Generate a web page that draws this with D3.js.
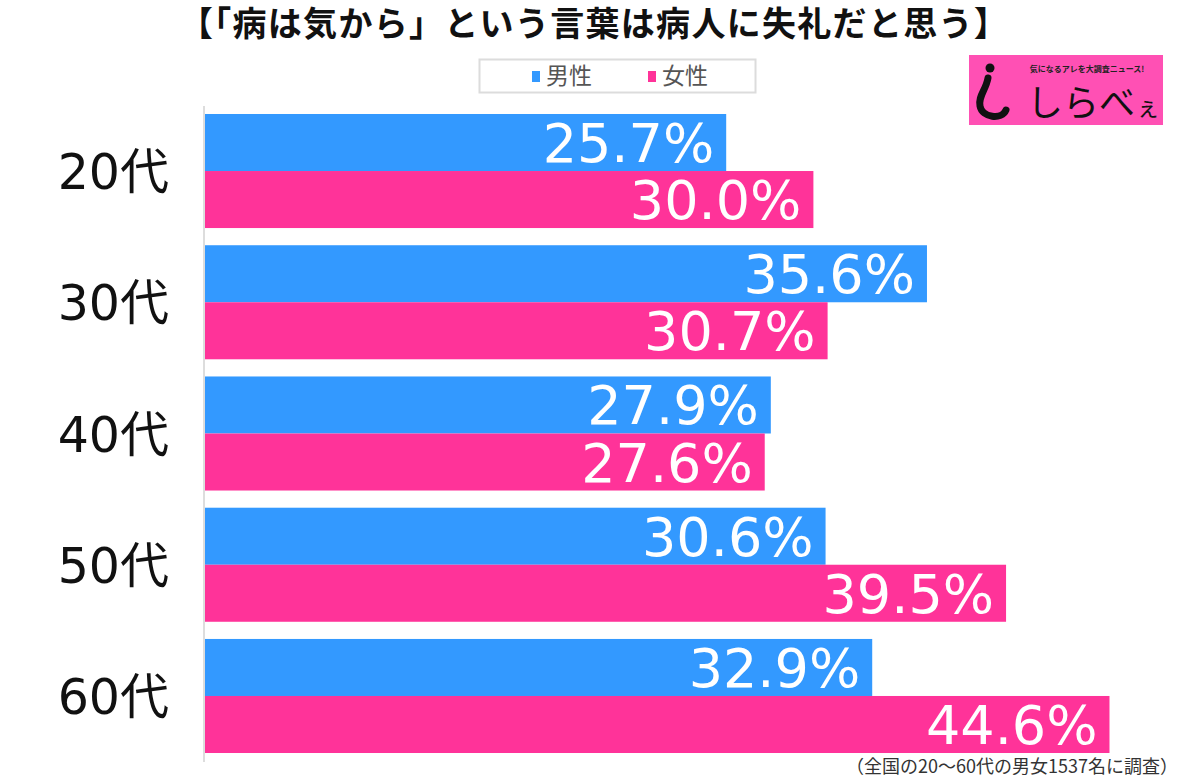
<!DOCTYPE html>
<html><head><meta charset="utf-8">
<script src="https://cdn.jsdelivr.net/npm/d3@7/dist/d3.min.js"></script>
<style>body{margin:0;background:#fff}svg{display:block}</style>
</head><body>
<svg id="chart" width="1200" height="779"></svg>
<script>
const categories = ["20代","30代","40代","50代","60代"];
const seriesNames = ["男性","女性"];
const maleValues = [25.7, 35.6, 27.9, 30.6, 32.9];
const femaleValues = [30.0, 30.7, 27.6, 39.5, 44.6];
const titleText = "【「病は気から」という言葉は病人に失礼だと思う】";
const noteText = "（全国の20〜60代の男女1537名に調査）";
const colors = ["#3399ff", "#ff3399"];

const svg = d3.select("#chart");
const numFont = "'DejaVu Sans','Noto Sans CJK JP',sans-serif";
const jpFont = "'Noto Sans CJK JP','Noto Sans',sans-serif";

const x = d3.scaleLinear().domain([0, 50]).range([205, 205 + 50*20.28]);
const y = d3.scaleBand().domain(categories).range([105.4, 761.6]).paddingInner(0.131).paddingOuter(0.0655);
const ySub = d3.scaleBand().domain(seriesNames).range([0, y.bandwidth()]);

// title
svg.append("text").attr("x", 594).attr("y", 36).attr("text-anchor","middle")
  .attr("font-family", jpFont).attr("font-weight","bold").attr("font-size",34).attr("fill","#111")
  .attr("letter-spacing", 1.3)
  .text(titleText);

// legend
const lg = svg.append("g");
lg.append("rect").attr("x",479.5).attr("y",59.5).attr("width",276).attr("height",33)
  .attr("fill","#fff").attr("stroke","#dcdcdc").attr("stroke-width",2);
const legX = [532, 648];
seriesNames.forEach((s,i)=>{
  lg.append("rect").attr("x",legX[i]).attr("y",71).attr("width",8).attr("height",11).attr("fill",colors[i]);
  lg.append("text").attr("x",legX[i]+14).attr("y",84).attr("font-family",jpFont).attr("font-size",23)
    .attr("fill","#555").text(s);
});

// axis line
svg.append("line").attr("x1",204).attr("x2",204).attr("y1",106).attr("y2",762)
  .attr("stroke","#dddddd").attr("stroke-width",2);

// category labels
svg.append("g").selectAll("text").data(categories).join("text")
  .attr("x", 169).attr("y", d => y(d) + y.bandwidth()/2 + 18)
  .attr("text-anchor","end").attr("font-family",numFont).attr("font-size",49).attr("fill","#111")
  .text(d=>d);

// bars
const rows = [];
categories.forEach((c,i)=>{
  rows.push({c, s:seriesNames[0], v:maleValues[i], col:colors[0]});
  rows.push({c, s:seriesNames[1], v:femaleValues[i], col:colors[1]});
});
svg.append("g").selectAll("rect").data(rows).join("rect")
  .attr("x", x(0)).attr("y", d => y(d.c) + ySub(d.s))
  .attr("width", d => x(d.v) - x(0)).attr("height", ySub.bandwidth())
  .attr("fill", d => d.col);

svg.append("g").selectAll("text").data(rows).join("text")
  .attr("x", d => x(d.v) - 12).attr("y", d => y(d.c) + ySub(d.s) + ySub.bandwidth()/2 + 19.5)
  .attr("text-anchor","end").attr("font-family",numFont).attr("font-size",54).attr("fill","#fff")
  .text(d => d.v.toFixed(1) + "%");

// note
svg.append("text").attr("x",1178).attr("y",773).attr("text-anchor","end")
  .attr("font-family",jpFont).attr("font-size",18).attr("fill","#333").text(noteText);

// logo
const logo = svg.append("g");
logo.append("rect").attr("x",969).attr("y",55).attr("width",194).attr("height",70).attr("fill","#ff50b4");
logo.append("circle").attr("cx",990).attr("cy",68).attr("r",4.5).attr("fill","#111");
logo.append("path").attr("d","M988,78 C986,90 978,96 980,106 C982,118 1002,120 1006,110")
  .attr("fill","none").attr("stroke","#111").attr("stroke-width",7).attr("stroke-linecap","round");
logo.append("text").attr("x",1087).attr("y",72).attr("text-anchor","middle")
  .attr("font-family",jpFont).attr("font-weight","bold").attr("font-size",8).attr("fill","#222")
  .text("気になるアレを大調査ニュース!");
logo.append("text").attr("x",1027).attr("y",116)
  .attr("font-family",jpFont).attr("font-size",36).attr("fill","#111")
  .text("しらべ");
logo.append("text").attr("x",1136).attr("y",116)
  .attr("font-family",jpFont).attr("font-size",24).attr("fill","#111").text("ぇ");
</script>
</body></html>
